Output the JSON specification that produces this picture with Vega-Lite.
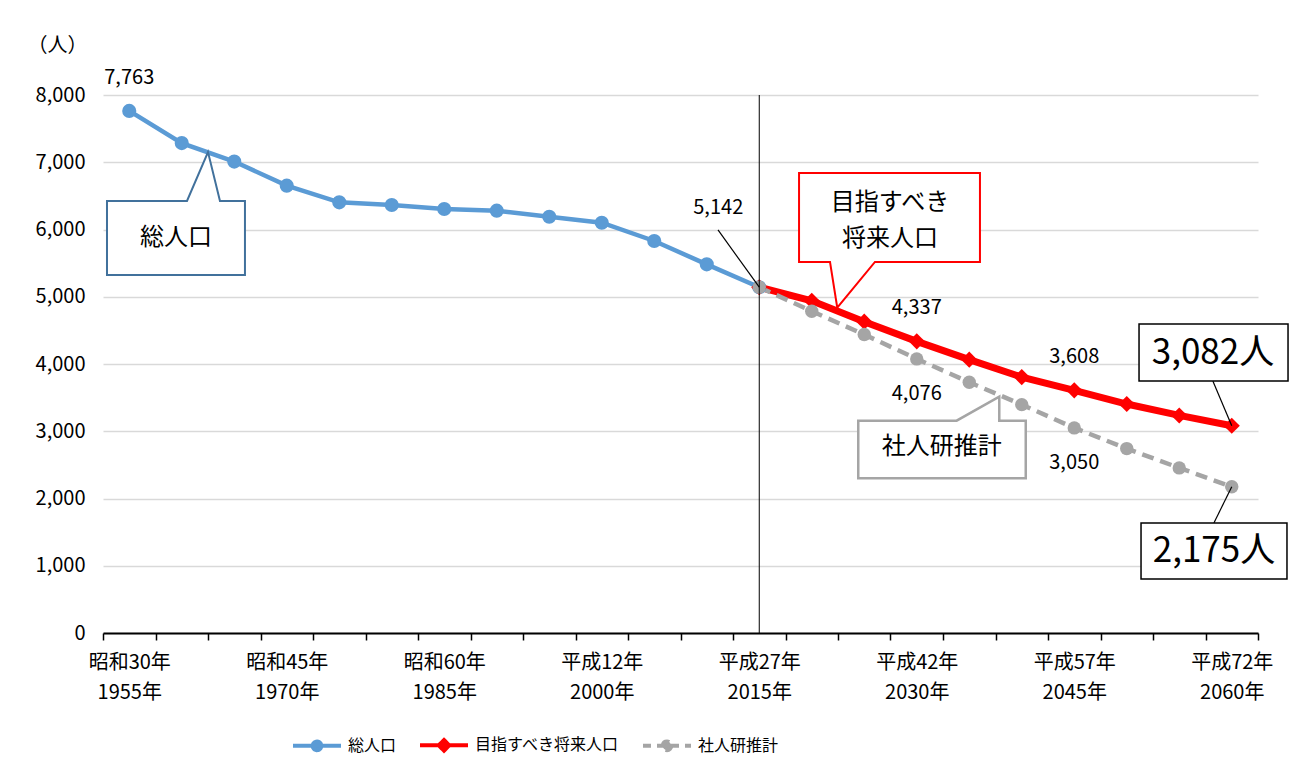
{
  "$schema": "https://vega.github.io/schema/vega-lite/v6.json",
  "width": 1155,
  "height": 538,
  "autosize": "none",
  "padding": {"left": 103, "top": 95, "right": 52, "bottom": 146},
  "background": "white",
  "config": {"font": "Noto Sans CJK JP", "view": {"stroke": null}},
  "datasets": {
    "pop": [
      {"series": "総人口", "year": 1955, "value": 7763},
      {"series": "総人口", "year": 1960, "value": 7285},
      {"series": "総人口", "year": 1965, "value": 7010},
      {"series": "総人口", "year": 1970, "value": 6652},
      {"series": "総人口", "year": 1975, "value": 6404},
      {"series": "総人口", "year": 1980, "value": 6364},
      {"series": "総人口", "year": 1985, "value": 6305},
      {"series": "総人口", "year": 1990, "value": 6280},
      {"series": "総人口", "year": 1995, "value": 6190},
      {"series": "総人口", "year": 2000, "value": 6101},
      {"series": "総人口", "year": 2005, "value": 5829},
      {"series": "総人口", "year": 2010, "value": 5482},
      {"series": "総人口", "year": 2015, "value": 5142},
      {"series": "目指すべき将来人口", "year": 2015, "value": 5142},
      {"series": "目指すべき将来人口", "year": 2020, "value": 4940},
      {"series": "目指すべき将来人口", "year": 2025, "value": 4630},
      {"series": "目指すべき将来人口", "year": 2030, "value": 4337},
      {"series": "目指すべき将来人口", "year": 2035, "value": 4065},
      {"series": "目指すべき将来人口", "year": 2040, "value": 3805},
      {"series": "目指すべき将来人口", "year": 2045, "value": 3608},
      {"series": "目指すべき将来人口", "year": 2050, "value": 3405},
      {"series": "目指すべき将来人口", "year": 2055, "value": 3235},
      {"series": "目指すべき将来人口", "year": 2060, "value": 3082},
      {"series": "社人研推計", "year": 2015, "value": 5142},
      {"series": "社人研推計", "year": 2020, "value": 4785},
      {"series": "社人研推計", "year": 2025, "value": 4438},
      {"series": "社人研推計", "year": 2030, "value": 4076},
      {"series": "社人研推計", "year": 2035, "value": 3728},
      {"series": "社人研推計", "year": 2040, "value": 3396},
      {"series": "社人研推計", "year": 2045, "value": 3050},
      {"series": "社人研推計", "year": 2050, "value": 2742},
      {"series": "社人研推計", "year": 2055, "value": 2455},
      {"series": "社人研推計", "year": 2060, "value": 2175}
    ],
    "callouts": [
      {"name": "総人口", "i": 1, "year": 1952.88, "value": 6424},
      {"name": "総人口", "i": 2, "year": 1960.5, "value": 6424},
      {"name": "総人口", "i": 3, "year": 1962.5, "value": 7152},
      {"name": "総人口", "i": 4, "year": 1963.64, "value": 6424},
      {"name": "総人口", "i": 5, "year": 1966.02, "value": 6424},
      {"name": "総人口", "i": 6, "year": 1966.02, "value": 5323},
      {"name": "総人口", "i": 7, "year": 1952.88, "value": 5323},
      {"name": "目指すべき将来人口", "i": 1, "year": 2018.79, "value": 6840},
      {"name": "目指すべき将来人口", "i": 2, "year": 2036.02, "value": 6840},
      {"name": "目指すべき将来人口", "i": 3, "year": 2036.02, "value": 5517},
      {"name": "目指すべき将来人口", "i": 4, "year": 2026.02, "value": 5517},
      {"name": "目指すべき将来人口", "i": 5, "year": 2022.43, "value": 4837},
      {"name": "目指すべき将来人口", "i": 6, "year": 2021.74, "value": 5517},
      {"name": "目指すべき将来人口", "i": 7, "year": 2018.79, "value": 5517},
      {"name": "社人研推計", "i": 1, "year": 2024.43, "value": 3157},
      {"name": "社人研推計", "i": 2, "year": 2033.8, "value": 3157},
      {"name": "社人研推計", "i": 3, "year": 2037.86, "value": 3514},
      {"name": "社人研推計", "i": 4, "year": 2037.86, "value": 3157},
      {"name": "社人研推計", "i": 5, "year": 2040.38, "value": 3157},
      {"name": "社人研推計", "i": 6, "year": 2040.38, "value": 2300},
      {"name": "社人研推計", "i": 7, "year": 2024.43, "value": 2300}
    ],
    "calloutText": [
      {"name": "総人口", "year": 1959.45, "value": 5874, "text": "総人口"},
      {"name": "目指すべき将来人口", "year": 2027.45, "value": 6395, "text": "目指すべき\n将来人口"},
      {"name": "社人研推計", "year": 2032.37, "value": 2770, "text": "社人研推計"}
    ],
    "leaders": [
      {"year": 2011.07, "value": 5993, "year2": 2015, "value2": 5142},
      {"year": 2058.2, "value": 3747, "year2": 2060, "value2": 3082},
      {"year": 2058.3, "value": 1636, "year2": 2060, "value2": 2175}
    ],
    "boxes": [
      {"name": "3,082人", "year": 2051.17, "year2": 2065.36, "value": 3747, "value2": 4595, "ty": 2058.21, "tv": 4171},
      {"name": "2,175人", "year": 2051.36, "year2": 2065.26, "value": 803, "value2": 1636, "ty": 2058.31, "tv": 1219}
    ],
    "divider": [{"year": 2015, "value": 0, "value2": 8000}]
  },
  "layer": [
    {
      "data": {"name": "pop"},
      "transform": [{"filter": "datum.series === '総人口'"}],
      "mark": {"type": "line", "strokeWidth": 4.5},
      "encoding": {
        "x": {
          "field": "year", "type": "quantitative",
          "scale": {"domain": [1952.5, 2062.5], "nice": false, "zero": false},
          "axis": {
            "values": [1952.5,1955,1957.5,1960,1962.5,1965,1967.5,1970,1972.5,1975,1977.5,1980,1982.5,1985,1987.5,1990,1992.5,1995,1997.5,2000,2002.5,2005,2007.5,2010,2012.5,2015,2017.5,2020,2022.5,2025,2027.5,2030,2032.5,2035,2037.5,2040,2042.5,2045,2047.5,2050,2052.5,2055,2057.5,2060,2062.5],
            "tickCount": 200,
            "title": null,
            "grid": false,
            "domainColor": "#000000",
            "domainWidth": 2,
            "tickColor": "#000000",
            "tickWidth": 1.5,
            "tickSize": 7,
            "tickOpacity": {"condition": {"test": "datum.value % 5 != 0", "value": 1}, "value": 0},
            "labelExpr": "(datum.value - 1955) % 15 == 0 ? [(datum.value <= 1985 ? '昭和' + (datum.value - 1925) : '平成' + (datum.value - 1988)) + '年', datum.value + '年'] : ''",
            "labelLineHeight": 30,
            "labelOverlap": false,
            "labelFlush": false,
            "labelFontSize": 20,
            "labelColor": "#000000",
            "labelPadding": 12,
            "labelBaseline": "top"
          }
        },
        "y": {
          "field": "value", "type": "quantitative",
          "scale": {"domain": [0, 8000], "nice": false},
          "axis": {
            "values": [0,1000,2000,3000,4000,5000,6000,7000,8000],
            "format": ",d",
            "grid": true,
            "gridColor": "#D9D9D9",
            "gridWidth": 1.5,
            "domain": false,
            "ticks": false,
            "labelFontSize": 20,
            "labelColor": "#000000",
            "labelPadding": 18,
            "title": "（人）",
            "titleAngle": 0,
            "titleX": -46,
            "titleY": -50,
            "titleAlign": "center",
            "titleBaseline": "middle",
            "titleFontSize": 20,
            "titleFontWeight": "normal",
            "titleColor": "#000000"
          }
        },
        "color": {
          "field": "series", "type": "nominal",
          "scale": {"domain": ["総人口", "目指すべき将来人口", "社人研推計"], "range": ["#5B9BD5", "#FF0000", "#A5A5A5"]},
          "legend": {
            "title": null,
            "orient": "none",
            "legendX": 188,
            "legendY": 624,
            "direction": "horizontal",
            "labelFontSize": 16,
            "labelColor": "#000000",
            "labelLimit": 400,
            "columnPadding": 15,
            "symbolSize": 2304,
            "symbolStrokeWidth": 4,
            "labelOffset": 5,
            "encode": {
              "symbols": {
                "update": {
                  "shape": {"signal": "datum.value === '目指すべき将来人口' ? 'M-1,0L1,0M0,-0.22L0.22,0L0,0.22L-0.22,0Z' : 'M-1,0L1,0M0.18,0A0.18,0.18,0,1,1,-0.18,0A0.18,0.18,0,1,1,0.18,0Z'"},
                  "size": {"value": 2304},
                  "strokeWidth": {"value": 4},
                  "fill": {"signal": "scale('color', datum.value)"},
                  "stroke": {"signal": "scale('color', datum.value)"},
                  "strokeDash": {"signal": "datum.value === '社人研推計' ? [8,6] : [1,0]"},
                  "opacity": {"value": 1},
                  "fillOpacity": {"value": 1}
                }
              }
            }
          }
        }
      }
    },
    {
      "data": {"name": "pop"},
      "transform": [{"filter": "datum.series === '目指すべき将来人口'"}],
      "mark": {"type": "line", "strokeWidth": 7},
      "encoding": {
        "x": {"field": "year", "type": "quantitative"},
        "y": {"field": "value", "type": "quantitative"},
        "color": {"field": "series", "type": "nominal"}
      }
    },
    {
      "data": {"name": "pop"},
      "transform": [{"filter": "datum.series === '社人研推計'"}],
      "mark": {"type": "line", "strokeWidth": 4.5, "strokeDash": [12, 7]},
      "encoding": {
        "x": {"field": "year", "type": "quantitative"},
        "y": {"field": "value", "type": "quantitative"},
        "color": {"field": "series", "type": "nominal"}
      }
    },
    {
      "data": {"name": "pop"},
      "transform": [{"filter": "datum.series === '総人口'"}],
      "mark": {"type": "point", "filled": true, "opacity": 1, "shape": "circle", "size": 200, "color": "#5B9BD5"},
      "encoding": {
        "x": {"field": "year", "type": "quantitative"},
        "y": {"field": "value", "type": "quantitative"}
      }
    },
    {
      "data": {"name": "pop"},
      "transform": [{"filter": "datum.series === '目指すべき将来人口'"}],
      "mark": {"type": "point", "filled": true, "opacity": 1, "shape": "diamond", "size": 260, "color": "#FF0000"},
      "encoding": {
        "x": {"field": "year", "type": "quantitative"},
        "y": {"field": "value", "type": "quantitative"}
      }
    },
    {
      "data": {"name": "pop"},
      "transform": [{"filter": "datum.series === '社人研推計'"}],
      "mark": {"type": "point", "filled": true, "opacity": 1, "shape": "circle", "size": 180, "color": "#A5A5A5"},
      "encoding": {
        "x": {"field": "year", "type": "quantitative"},
        "y": {"field": "value", "type": "quantitative"}
      }
    },
    {
      "data": {"name": "divider"},
      "mark": {"type": "rule", "color": "#000000", "strokeWidth": 1},
      "encoding": {
        "x": {"field": "year", "type": "quantitative"},
        "y": {"field": "value", "type": "quantitative"},
        "y2": {"field": "value2"}
      }
    },
    {
      "data": {"name": "callouts"},
      "transform": [{"filter": "datum.name === '総人口'"}],
      "mark": {"type": "line", "interpolate": "linear-closed", "stroke": "#41719C", "strokeWidth": 2, "fill": "white"},
      "encoding": {
        "x": {"field": "year", "type": "quantitative"},
        "y": {"field": "value", "type": "quantitative"},
        "order": {"field": "i", "type": "quantitative"}
      }
    },
    {
      "data": {"name": "callouts"},
      "transform": [{"filter": "datum.name === '目指すべき将来人口'"}],
      "mark": {"type": "line", "interpolate": "linear-closed", "stroke": "#FF0000", "strokeWidth": 2, "fill": "white"},
      "encoding": {
        "x": {"field": "year", "type": "quantitative"},
        "y": {"field": "value", "type": "quantitative"},
        "order": {"field": "i", "type": "quantitative"}
      }
    },
    {
      "data": {"name": "callouts"},
      "transform": [{"filter": "datum.name === '社人研推計'"}],
      "mark": {"type": "line", "interpolate": "linear-closed", "stroke": "#A5A5A5", "strokeWidth": 2.5, "fill": "white"},
      "encoding": {
        "x": {"field": "year", "type": "quantitative"},
        "y": {"field": "value", "type": "quantitative"},
        "order": {"field": "i", "type": "quantitative"}
      }
    },
    {
      "data": {"name": "calloutText"},
      "mark": {"type": "text", "fontSize": 24, "color": "#000000", "align": "center", "baseline": "middle", "lineBreak": "\n", "lineHeight": 36},
      "encoding": {
        "x": {"field": "year", "type": "quantitative"},
        "y": {"field": "value", "type": "quantitative"},
        "text": {"field": "text", "type": "nominal"}
      }
    },
    {
      "data": {"name": "leaders"},
      "mark": {"type": "rule", "color": "#000000", "strokeWidth": 1.2},
      "encoding": {
        "x": {"field": "year", "type": "quantitative"},
        "y": {"field": "value", "type": "quantitative"},
        "x2": {"field": "year2"},
        "y2": {"field": "value2"}
      }
    },
    {
      "data": {"name": "boxes"},
      "mark": {"type": "rect", "fill": "white", "stroke": "#000000", "strokeWidth": 1.5},
      "encoding": {
        "x": {"field": "year", "type": "quantitative"},
        "x2": {"field": "year2"},
        "y": {"field": "value", "type": "quantitative"},
        "y2": {"field": "value2"}
      }
    },
    {
      "data": {"name": "boxes"},
      "mark": {"type": "text", "fontSize": 35, "color": "#000000", "align": "center", "baseline": "middle"},
      "encoding": {
        "x": {"field": "ty", "type": "quantitative"},
        "y": {"field": "tv", "type": "quantitative"},
        "text": {"field": "name", "type": "nominal"},
        "fontWeight": {"condition": {"test": "datum.name === '3,082人'", "value": "bold"}, "value": "normal"}
      }
    },
    {
      "data": {"name": "pop"},
      "transform": [{"filter": "(datum.series === '総人口' && datum.year === 1955) || (datum.series === '目指すべき将来人口' && (datum.year === 2030 || datum.year === 2045))"}],
      "mark": {"type": "text", "fontSize": 20, "color": "#000000", "align": "center", "baseline": "middle", "dy": -33},
      "encoding": {
        "x": {"field": "year", "type": "quantitative"},
        "y": {"field": "value", "type": "quantitative"},
        "text": {"field": "value", "type": "quantitative", "format": ",d"}
      }
    },
    {
      "data": {"name": "pop"},
      "transform": [{"filter": "datum.series === '社人研推計' && (datum.year === 2030 || datum.year === 2045)"}],
      "mark": {"type": "text", "fontSize": 20, "color": "#000000", "align": "center", "baseline": "middle", "dy": 35},
      "encoding": {
        "x": {"field": "year", "type": "quantitative"},
        "y": {"field": "value", "type": "quantitative"},
        "text": {"field": "value", "type": "quantitative", "format": ",d"}
      }
    },
    {
      "data": {"name": "pop"},
      "transform": [{"filter": "datum.series === '総人口' && datum.year === 2015"}],
      "mark": {"type": "text", "fontSize": 20, "color": "#000000", "align": "center", "baseline": "middle", "dx": -41, "dy": -79},
      "encoding": {
        "x": {"field": "year", "type": "quantitative"},
        "y": {"field": "value", "type": "quantitative"},
        "text": {"field": "value", "type": "quantitative", "format": ",d"}
      }
    }
  ]
}
